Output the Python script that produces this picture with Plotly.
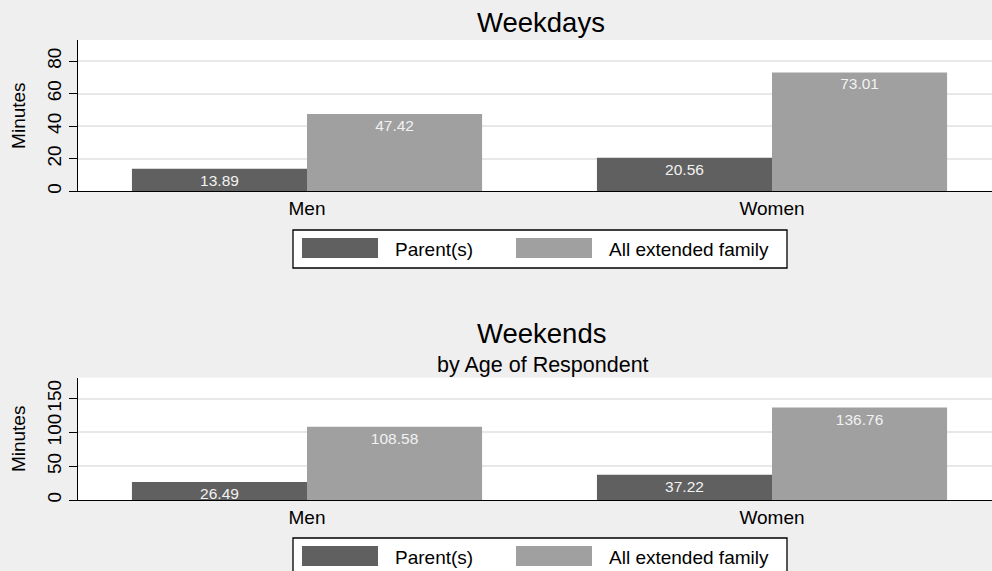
import plotly.graph_objects as go

# ---- data ----
groups = ["Men", "Women"]
series_names = ["Parent(s)", "All extended family"]
weekday_parent = [13.89, 20.56]
weekday_extended = [47.42, 73.01]
weekend_parent = [26.49, 37.22]
weekend_extended = [108.58, 136.76]
weekday_ticks = [0, 20, 40, 60, 80]
weekend_ticks = [0, 50, 100, 150]

# ---- styling ----
W, H = 992, 571
ML = 78
FONT = "Liberation Sans, Arial, sans-serif"
BG = "#efefef"
COLORS = ["#606060", "#a0a0a0"]


def px_x(p):
    return (p - ML) / (W - ML)


def px_y(p):
    return 1 - p / H


fig = go.Figure()

panels = [
    ("x", "y", [weekday_parent, weekday_extended]),
    ("x2", "y2", [weekend_parent, weekend_extended]),
]
for xa, ya, series in panels:
    for name, vals, col in zip(series_names, series, COLORS):
        fig.add_trace(go.Bar(
            x=groups, y=vals, name=name, xaxis=xa, yaxis=ya,
            marker=dict(color=col, line=dict(width=0)),
            text=[f"{v:.2f}" for v in vals],
            textposition="inside", insidetextanchor="end",
            constraintext="none", cliponaxis=False,
            textfont=dict(family=FONT, size=15.5, color="#f2f2f2"),
            showlegend=False, hoverinfo="skip",
        ))

xcommon = dict(
    type="category", range=[-0.4925, 1.4731], showline=True,
    linecolor="black", linewidth=1.3, ticks="", showgrid=False,
    zeroline=False, tickfont=dict(family=FONT, size=19, color="black"),
    automargin=False, fixedrange=True,
)
ycommon = dict(
    showline=True, linecolor="black", linewidth=1.3, ticks="outside",
    ticklen=8, tickwidth=1.3, tickcolor="black", tickangle=-90,
    showgrid=True, gridcolor="#e8e8e8", gridwidth=1.5, zeroline=False,
    tickfont=dict(family=FONT, size=19, color="black"),
    title=dict(text="Minutes", font=dict(family=FONT, size=19, color="black"),
               standoff=13),
    automargin=False, fixedrange=True,
)

fig.update_layout(
    width=W, height=H,
    margin=dict(l=ML, r=0, t=0, b=0, pad=0),
    paper_bgcolor=BG, plot_bgcolor="white",
    barmode="group", bargap=0.247, bargroupgap=0,
    font=dict(family=FONT, color="black"),
    xaxis=dict(xcommon, domain=[0, 1], anchor="y"),
    yaxis=dict(ycommon, domain=[px_y(191.3), px_y(40)], range=[0, 92.9],
               tickvals=weekday_ticks, anchor="x"),
    xaxis2=dict(xcommon, domain=[0, 1], anchor="y2"),
    yaxis2=dict(ycommon, domain=[px_y(500), px_y(377.7)], range=[0, 181],
                tickvals=weekend_ticks, anchor="x2"),
)

# ---- titles ----
annotations = [
    dict(text="Weekdays", x=px_x(541), y=px_y(22.5), size=27.5),
    dict(text="Weekends", x=px_x(541), y=px_y(333), size=27.5),
    dict(text="by Age of Respondent", x=px_x(543), y=px_y(364.5), size=21.5),
]
for a in annotations:
    fig.add_annotation(
        text=a["text"], x=a["x"], y=a["y"], xref="paper", yref="paper",
        xanchor="center", yanchor="middle", showarrow=False,
        font=dict(family=FONT, size=a["size"], color="black"),
    )

# ---- legends (boxed, wide swatches) ----
for top in (230, 538):
    fig.add_shape(type="rect", xref="paper", yref="paper",
                  x0=px_x(293), x1=px_x(787), y0=px_y(top + 38), y1=px_y(top),
                  line=dict(color="black", width=1.3), fillcolor="white",
                  layer="above")
    for name, col, sx, tx in zip(series_names, COLORS, (302, 516), (393, 607)):
        fig.add_shape(type="rect", xref="paper", yref="paper",
                      x0=px_x(sx), x1=px_x(sx + 76),
                      y0=px_y(top + 28), y1=px_y(top + 8),
                      line=dict(width=0), fillcolor=col, layer="above")
        fig.add_annotation(
            text=name, x=px_x(tx), y=px_y(top + 19), xref="paper", yref="paper",
            xanchor="left", yanchor="middle", showarrow=False,
            font=dict(family=FONT, size=19, color="black"),
        )

fig.write_html("out.html")
